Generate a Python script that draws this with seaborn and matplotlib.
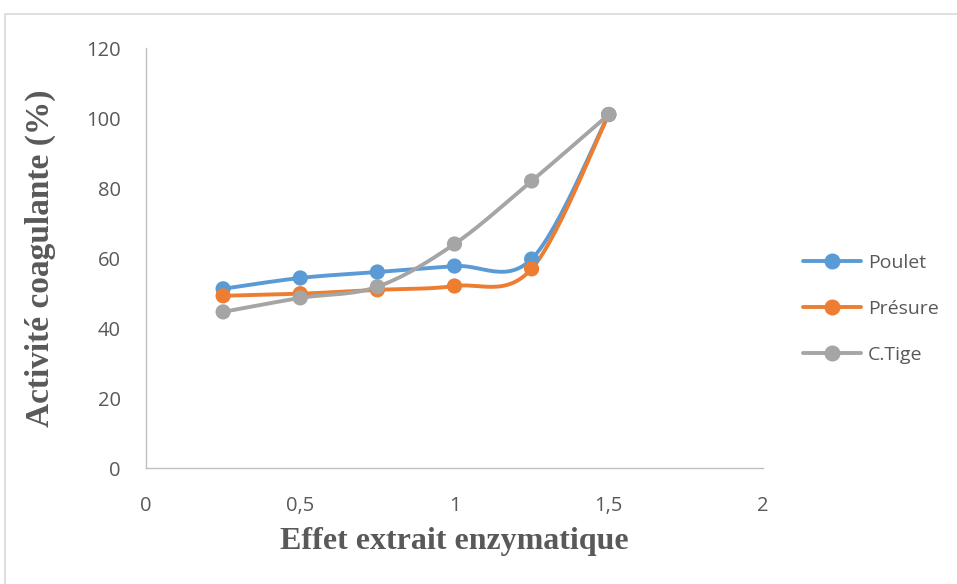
import numpy as np
import pandas as pd
import matplotlib
matplotlib.use("Agg")
import matplotlib.pyplot as plt
from matplotlib.patches import Rectangle
import seaborn as sns

# Data
doses = [0.25, 0.5, 0.75, 1.0, 1.25, 1.5]
poulet = [51.2, 54.3, 56.0, 57.7, 59.7, 101.0]
presure = [49.2, 49.8, 50.9, 52.0, 56.9, 101.0]
ctige = [44.6, 48.6, 51.8, 64.0, 82.0, 101.0]
series_names = ["Poulet", "Présure", "C.Tige"]
colors = ["#5B9BD5", "#ED7D31", "#A5A5A5"]
x_ticks = [0, 0.5, 1, 1.5, 2]
x_tick_labels = ["0", "0,5", "1", "1,5", "2"]
y_ticks = [0, 20, 40, 60, 80, 100, 120]

df = pd.DataFrame({"dose": doses * 3,
                   "activite": poulet + presure + ctige,
                   "serie": sum([[n] * len(doses) for n in series_names], [])})


def smooth_curve(x, y, steps=30):
    """Catmull-Rom (Bezier, tension 1/6) curve through the points."""
    x = np.asarray(x, float)
    y = np.asarray(y, float)
    pts = np.column_stack([x, y])
    n = len(pts)
    out = []
    for i in range(n - 1):
        p0 = pts[max(i - 1, 0)]
        p1 = pts[i]
        p2 = pts[i + 1]
        p3 = pts[min(i + 2, n - 1)]
        c1 = p1 + (p2 - p0) / 6.0
        c2 = p2 - (p3 - p1) / 6.0
        t = np.linspace(0, 1, steps)[:, None]
        seg = ((1 - t) ** 3) * p1 + 3 * ((1 - t) ** 2) * t * c1 + 3 * (1 - t) * t ** 2 * c2 + t ** 3 * p2
        out.append(seg if i == 0 else seg[1:])
    seg = np.vstack(out)
    return seg[:, 0], seg[:, 1]


sns.set_theme(style="white")
plt.rcParams["font.family"] = ["Open Sans", "DejaVu Sans"]

fig = plt.figure(figsize=(9.57, 5.84), dpi=100)
ax = fig.add_axes([146 / 957, 1 - 468 / 584, (763 - 146) / 957, (468 - 48) / 584])

# outer chart frame
fig.patches.append(Rectangle((5 / 957, -0.01), 1.0, 1 - 14 / 584 + 0.01,
                             transform=fig.transFigure, fill=False,
                             edgecolor="#D9D9D9", linewidth=1.2))

for name, col in zip(series_names, colors):
    sub = df[df["serie"] == name]
    xs, ys = smooth_curve(sub["dose"], sub["activite"])
    ax.plot(xs, ys, color=col, linewidth=2.8, solid_capstyle="round", zorder=2)
    sns.scatterplot(x=sub["dose"], y=sub["activite"], ax=ax, color=col,
                    s=120, edgecolor="none", zorder=3, legend=False)
    ax.plot([], [], color=col, linewidth=2.8, marker="o", markersize=10.5,
            label=name)

ax.set_xlim(0, 2)
ax.set_ylim(0, 120)
ax.set_xticks(x_ticks)
ax.set_xticklabels(x_tick_labels)
ax.set_yticks(y_ticks)
ax.tick_params(axis="both", length=0, labelsize=14.5, labelcolor="#595959")
ax.tick_params(axis="x", pad=20)
ax.tick_params(axis="y", pad=18)
for s in ["top", "right"]:
    ax.spines[s].set_visible(False)
for s in ["left", "bottom"]:
    ax.spines[s].set_color("#BFBFBF")
    ax.spines[s].set_linewidth(1.0)
ax.grid(False)

ax.set_xlabel("Effet extrait enzymatique", fontfamily="Liberation Serif",
              fontweight="bold", fontsize=23, color="#595959", labelpad=8)
ax.set_ylabel("Activité coagulante (%)", fontfamily="Liberation Serif",
              fontweight="bold", fontsize=24, color="#595959", labelpad=22)

leg = ax.legend(loc="upper left", bbox_to_anchor=(0.976, 0.64), frameon=False,
                fontsize=14, labelspacing=1.45, handlelength=3.0,
                handletextpad=0.35, borderaxespad=2.4)
for t in leg.get_texts():
    t.set_color("#595959")

fig.savefig("out.png", dpi=100)
